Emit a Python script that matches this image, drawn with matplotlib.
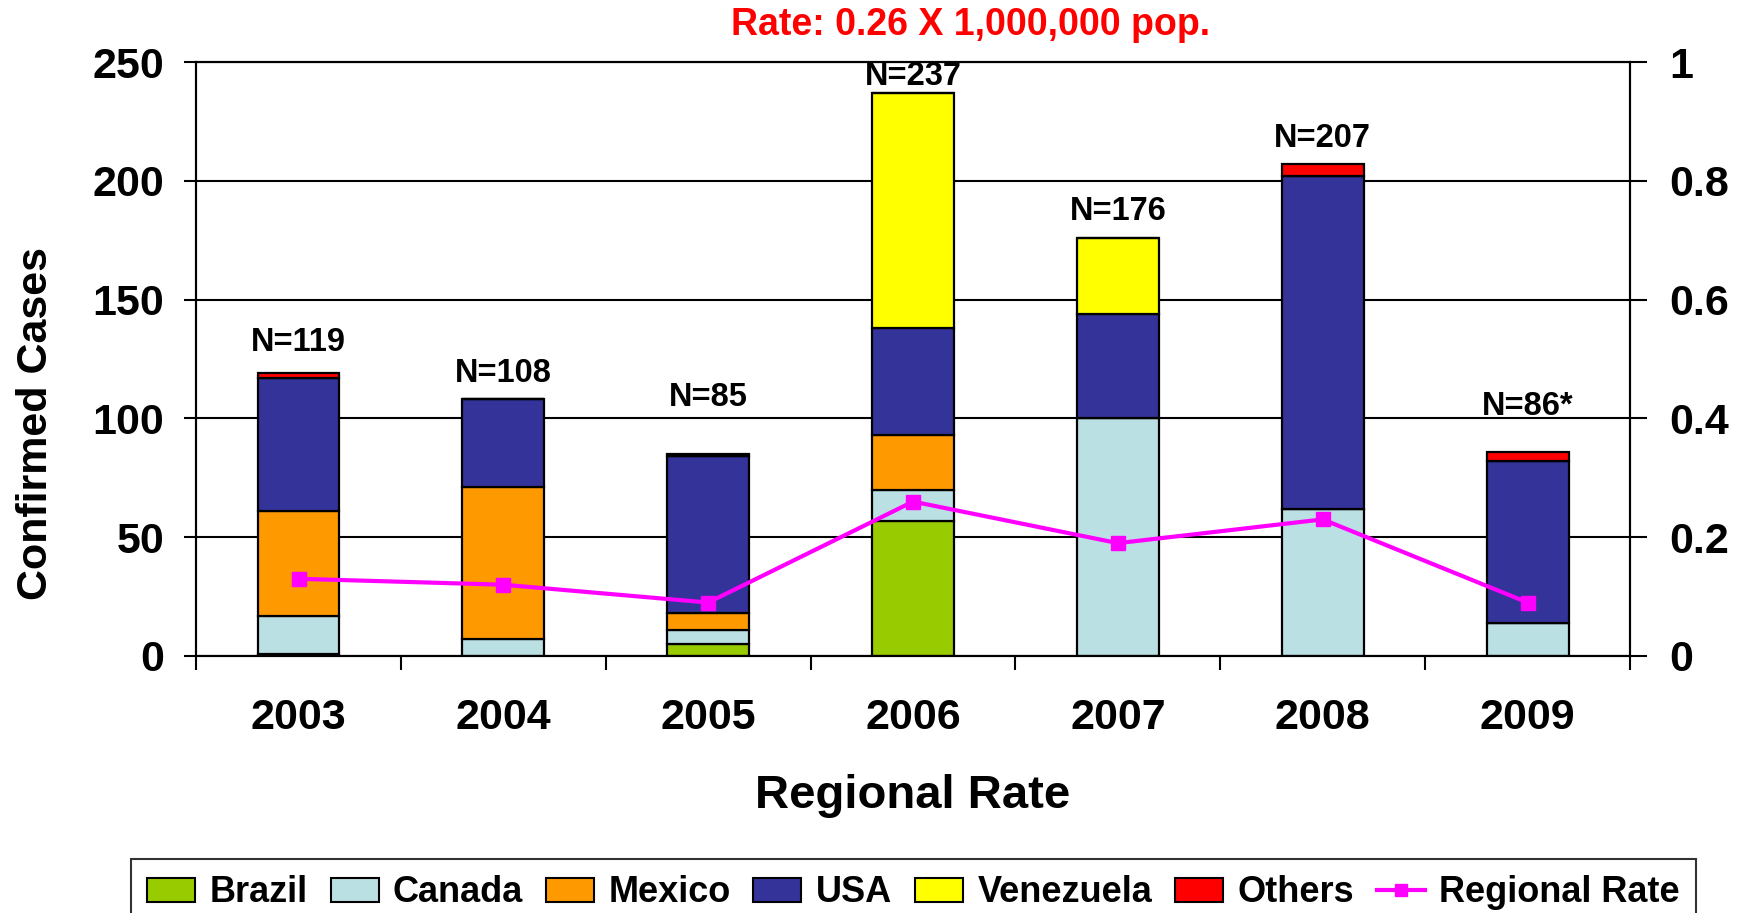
import matplotlib
matplotlib.use("Agg")
import matplotlib.pyplot as plt
from matplotlib.patches import Patch
from matplotlib.lines import Line2D
import numpy as np

years = ["2003", "2004", "2005", "2006", "2007", "2008", "2009"]
brazil = [1, 0, 5, 57, 0, 0, 0]
canada = [16, 7, 6, 13, 100, 62, 14]
mexico = [44, 64, 7, 23, 0, 0, 0]
usa = [56, 37, 66, 45, 44, 140, 68]
venezuela = [0, 0, 0, 99, 32, 0, 0]
others = [2, 0, 1, 0, 0, 5, 4]
totals_labels = ["N=119", "N=108", "N=85", "N=237", "N=176", "N=207", "N=86*"]
regional_rate = [0.13, 0.12, 0.09, 0.26, 0.19, 0.23, 0.09]

series_names = ["Brazil", "Canada", "Mexico", "USA", "Venezuela", "Others"]
series_vals = [brazil, canada, mexico, usa, venezuela, others]

# styling (label offsets above each bar, in cases)
label_offsets = [13, 11, 24, 7, 11, 11, 19]
colors = ["#99CC00", "#BBE0E3", "#FF9900", "#333399", "#FFFF00", "#FF0000"]
rate_color = "#FF00FF"

plt.rcParams['font.family'] = ['Liberation Sans', 'DejaVu Sans']
plt.rcParams['font.weight'] = 'bold'

fig = plt.figure(figsize=(17.46, 9.13), dpi=100)
ax = fig.add_axes([0.1123, 0.2815, 0.8213, 0.6505])
x = np.arange(len(years))

ax.set_axisbelow(True)
ax.yaxis.grid(True, color="black", linewidth=1.5)
bottom = np.zeros(len(years))
for name, vals, c in zip(series_names, series_vals, colors):
    v = np.array(vals, dtype=float)
    ax.bar(x, v, width=0.4, bottom=bottom, color=c, edgecolor="black",
           linewidth=1.6, zorder=2)
    bottom += v

for xi, tot, lab, off in zip(x, bottom, totals_labels, label_offsets):
    ax.text(xi, tot + off, lab, ha="center", va="center", fontsize=23.5,
            fontweight="bold")

ax.set_xlim(-0.5, len(years) - 0.5)
ax.set_ylim(0, 250)
ax.set_yticks(np.arange(0, 251, 50))
ax.set_xticks(x)
ax.set_xticklabels(years)
ax.set_xticks(np.arange(-0.5, len(years), 1.0), minor=True)
ax.tick_params(axis="x", which="major", length=0, pad=30, labelsize=31)
ax.tick_params(axis="x", which="minor", length=10, width=1.5, direction="out")
ax.tick_params(axis="y", length=9, width=1.5, direction="out", labelsize=31, pad=14)
for s in ax.spines.values():
    s.set_linewidth(1.5)
ax.set_ylabel("Confirmed Cases", fontsize=31, fontweight="bold")
ax.yaxis.set_label_coords(-0.0976, 0.391)
ax.set_xlabel("Regional Rate", fontsize=34, fontweight="bold", labelpad=26)

ax2 = ax.twinx()
ax2.set_ylim(0, 1)
ax2.set_yticks([0, 0.2, 0.4, 0.6, 0.8, 1.0])
ax2.set_yticklabels(["0", "0.2", "0.4", "0.6", "0.8", "1"])
ax2.tick_params(axis="y", length=12, width=1.5, direction="out", labelsize=31, pad=16)
ax2.plot(x, regional_rate, color=rate_color, linewidth=3, marker="s",
         markersize=10, zorder=3)
for s in ax2.spines.values():
    s.set_linewidth(1.5)

fig.text(0.5557, 0.9725, "Rate: 0.26 X 1,000,000 pop.", color="#FF0000",
         fontsize=27, fontweight="bold", ha="center", va="center")

handles = [Patch(facecolor=c, edgecolor="black", linewidth=1.5) for c in colors]
handles.append(Line2D([0], [0], color=rate_color, linewidth=3, marker="s",
                      markersize=9))
labels = series_names + ["Regional Rate"]
leg = fig.legend(handles, labels, loc="upper center", bbox_to_anchor=(0.5232, 0.0591),
                 ncol=7, frameon=True, handlelength=1.33,
                 handleheight=0.65, handletextpad=0.4, columnspacing=0.63,
                 borderpad=0.45, borderaxespad=0, fancybox=False, edgecolor="black",
                 prop={"family": ["Liberation Sans", "DejaVu Sans"],
                       "weight": "bold", "size": 26})
leg.get_frame().set_linewidth(1.5)

fig.savefig("out.png", dpi=100)
